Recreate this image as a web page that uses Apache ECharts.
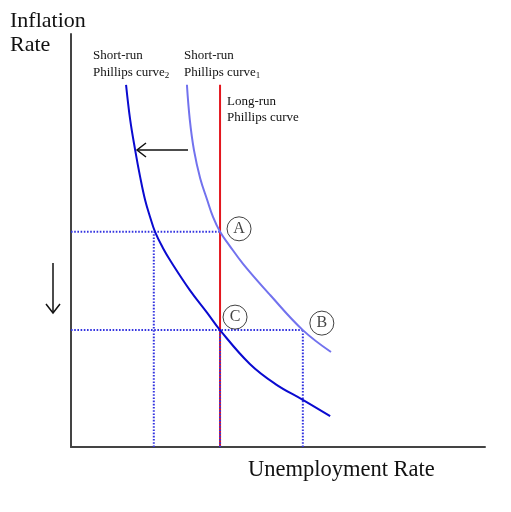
<!DOCTYPE html>
<html>
<head>
<meta charset="utf-8">
<script src="https://cdn.jsdelivr.net/npm/echarts@6/dist/echarts.min.js"></script>
<style>html,body{margin:0;padding:0;background:#fff}#c{width:511px;height:512px}</style>
</head>
<body>
<div id="c"></div>
<script>
// Short-run Phillips curve 1 (light blue)
const curve1X = [28.0, 28.7, 29.7, 31.2, 32.9, 34.3, 36.0, 38.2, 41.6, 48.1, 56.0, 62.8];
const curve1Y = [87.7, 79.2, 71.9, 65.1, 59.8, 55.7, 52.1, 48.9, 44.3, 36.8, 28.3, 23.0];
// Short-run Phillips curve 2 (dark blue)
const curve2X = [13.3, 14.3, 15.5, 16.7, 17.9, 19.1, 20.3, 22.2, 24.2, 28.7, 32.9, 36.0, 43.2, 49.3, 56.0, 62.6];
const curve2Y = [87.7, 79.2, 71.9, 65.4, 59.8, 55.7, 52.1, 48.2, 44.8, 38.0, 32.5, 28.3, 20.1, 15.3, 11.4, 7.5];
// Long-run Phillips curve (vertical)
const longRunX = 36.0;
const longRunTop = 87.7;
// Key points
const pointNames = ['A', 'C', 'B'];
const pointX = [36.0, 36.0, 56.0];
const pointY = [52.1, 28.3, 28.3];
const leftDropX = 20.0;

const serif = "'Liberation Serif', 'DejaVu Serif', serif";
const zip = (xs, ys) => xs.map((x, i) => [x, ys[i]]);
const dotted = { type: [1.6, 1.6], width: 2, color: '#3434e0' };
function dotSeries(data) {
  return { type: 'line', data, symbol: 'none', lineStyle: dotted, z: 3, silent: true };
}

const chart = echarts.init(document.getElementById('c'));
const offsets = { A: [19, -3], C: [15, -13], B: [19, -7] };
chart.setOption({
  animation: false,
  grid: { left: 71, right: 26, top: 34, bottom: 65 },
  xAxis: { type: 'value', min: 0, max: 100, axisLine: { lineStyle: { color: '#444', width: 2 } },
    axisTick: { show: false }, axisLabel: { show: false }, splitLine: { show: false } },
  yAxis: { type: 'value', min: 0, max: 100, axisLine: { show: true, lineStyle: { color: '#444', width: 2 } },
    axisTick: { show: false }, axisLabel: { show: false }, splitLine: { show: false } },
  series: [
    dotSeries([[0, pointY[0]], [pointX[0], pointY[0]]]),
    dotSeries([[0, pointY[1]], [pointX[2], pointY[2]]]),
    dotSeries([[leftDropX, 0], [leftDropX, pointY[0]]]),
    dotSeries([[pointX[2], 0], [pointX[2], pointY[2]]]),
    { type: 'line', data: [[longRunX, 0], [longRunX, longRunTop]], symbol: 'none',
      lineStyle: { color: '#e3161e', width: 2 }, z: 4 },
    Object.assign(dotSeries([[pointX[1], 0], [pointX[1], pointY[1]]]), { z: 5 }),
    { type: 'line', data: zip(curve1X, curve1Y), smooth: 0.4, symbol: 'none',
      lineStyle: { color: '#7272ee', width: 2 }, z: 6 },
    { type: 'line', data: zip(curve2X, curve2Y), smooth: 0.4, symbol: 'none',
      lineStyle: { color: '#0a0ad0', width: 2 }, z: 6 },
    { type: 'scatter', z: 7,
      data: pointNames.map((n, i) => ({ name: n, value: [pointX[i], pointY[i]], symbolOffset: offsets[n] })),
      symbol: 'circle', symbolSize: 24,
      itemStyle: { color: 'rgba(255,255,255,0)', borderColor: '#111', borderWidth: 1 },
      label: { show: true, position: 'inside', formatter: p => p.name,
        color: '#111', fontFamily: serif, fontSize: 16 }
    }
  ],
  graphic: [
    { type: 'text', style: { x: 10, y: 21, text: 'Inflation', font: '22px ' + serif, fill: '#111', verticalAlign: 'middle' } },
    { type: 'text', style: { x: 10, y: 45, text: 'Rate', font: '22px ' + serif, fill: '#111', verticalAlign: 'middle' } },
    { type: 'text', style: { x: 248, y: 470, text: 'Unemployment Rate', font: '22.5px ' + serif, fill: '#111', verticalAlign: 'middle' } },
    { type: 'text', style: { x: 93, y: 56, text: 'Short-run', font: '13px ' + serif, fill: '#111', verticalAlign: 'middle' } },
    { type: 'text', style: { x: 93, y: 73, text: '{a|Phillips curve}{s|2}', fill: '#111', verticalAlign: 'middle',
      rich: { a: { font: '13px ' + serif, fill: '#111' }, s: { font: '9px ' + serif, fill: '#111', padding: [6, 0, 0, 0] } } } },
    { type: 'text', style: { x: 184, y: 56, text: 'Short-run', font: '13px ' + serif, fill: '#111', verticalAlign: 'middle' } },
    { type: 'text', style: { x: 184, y: 73, text: '{a|Phillips curve}{s|1}', fill: '#111', verticalAlign: 'middle',
      rich: { a: { font: '13px ' + serif, fill: '#111' }, s: { font: '9px ' + serif, fill: '#111', padding: [6, 0, 0, 0] } } } },
    { type: 'text', style: { x: 227, y: 102, text: 'Long-run', font: '13px ' + serif, fill: '#111', verticalAlign: 'middle' } },
    { type: 'text', style: { x: 227, y: 118, text: 'Phillips curve', font: '13px ' + serif, fill: '#111', verticalAlign: 'middle' } },
    { type: 'line', shape: { x1: 188, y1: 150, x2: 138, y2: 150 }, style: { stroke: '#111', lineWidth: 1.5 } },
    { type: 'polyline', shape: { points: [[146, 143], [137, 150], [146, 157]] }, style: { stroke: '#111', lineWidth: 1.5, fill: null } },
    { type: 'line', shape: { x1: 53, y1: 263, x2: 53, y2: 312 }, style: { stroke: '#111', lineWidth: 1.5 } },
    { type: 'polyline', shape: { points: [[46, 304], [53, 313], [60, 304]] }, style: { stroke: '#111', lineWidth: 1.5, fill: null } }
  ]
});
</script>
</body>
</html>
